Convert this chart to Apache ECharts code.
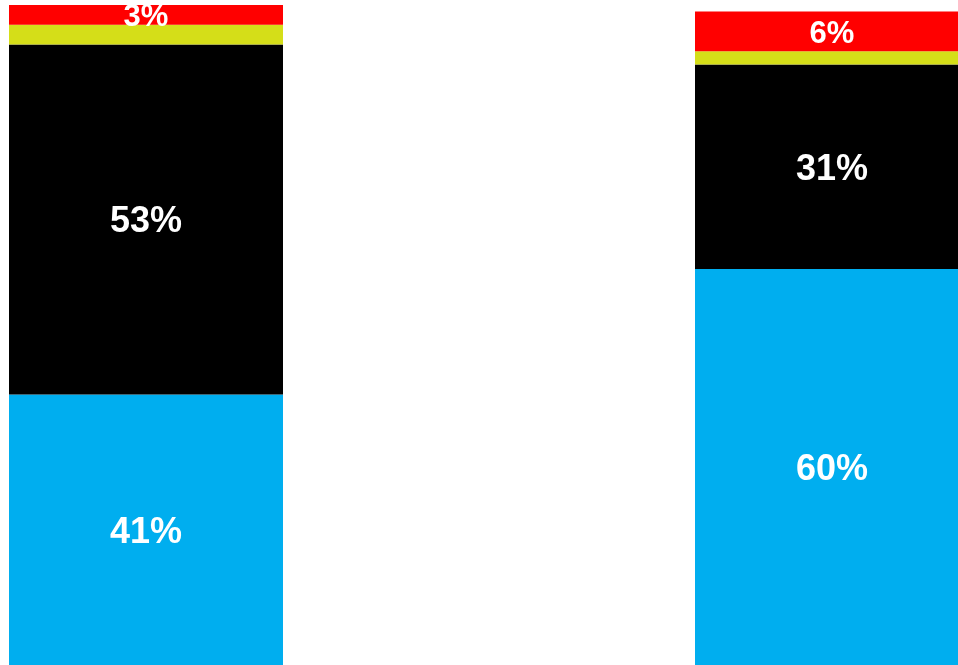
<!DOCTYPE html>
<html>
<head>
<meta charset="utf-8">
<style>
  html, body { margin: 0; padding: 0; background: #ffffff; }
  #chart { width: 958px; height: 665px; }
</style>
<script src="https://cdn.jsdelivr.net/npm/echarts@6/dist/echarts.min.js"></script>
</head>
<body>
<div id="chart"></div>
<script>
// Two stacked 100% bars, share per segment
const categories = ['A', 'B'];
const blueValues = [41, 60];
const blackValues = [53, 31];
const yellowValues = [3, 2];
const redValues = [3, 6];

const chart = echarts.init(document.getElementById('chart'), null, { renderer: 'canvas' });

function labelStyle(size) {
  return {
    show: true,
    position: 'inside',
    offset: [0, 3],
    color: '#ffffff',
    fontFamily: '"Liberation Sans", Arial, sans-serif',
    fontWeight: 'bold',
    fontSize: size,
    formatter: p => p.value + '%'
  };
}

function seg(name, data, color, label) {
  return {
    name: name,
    type: 'bar',
    stack: 'total',
    data: data,
    barWidth: 274,
    itemStyle: { color: color },
    label: label || { show: false },
    emphasis: { disabled: true },
    animation: false
  };
}

chart.setOption({
  animation: false,
  // the plot area is wider than the canvas so the second bar runs off the right edge
  grid: { left: -197, width: 1372, top: 5, bottom: 0, containLabel: false, outerBoundsMode: 'none' },
  xAxis: {
    type: 'category',
    data: categories,
    show: false
  },
  yAxis: {
    type: 'value',
    min: 0,
    max: 100,
    show: false,
    splitLine: { show: false }
  },
  series: [
    seg('blue', blueValues, '#00AEEF', labelStyle(36)),
    seg('black', blackValues, '#000000', labelStyle(36)),
    seg('yellow', yellowValues, '#D5DE18', null),
    seg('red', redValues, '#FF0000', labelStyle(31))
  ]
});
</script>
</body>
</html>
